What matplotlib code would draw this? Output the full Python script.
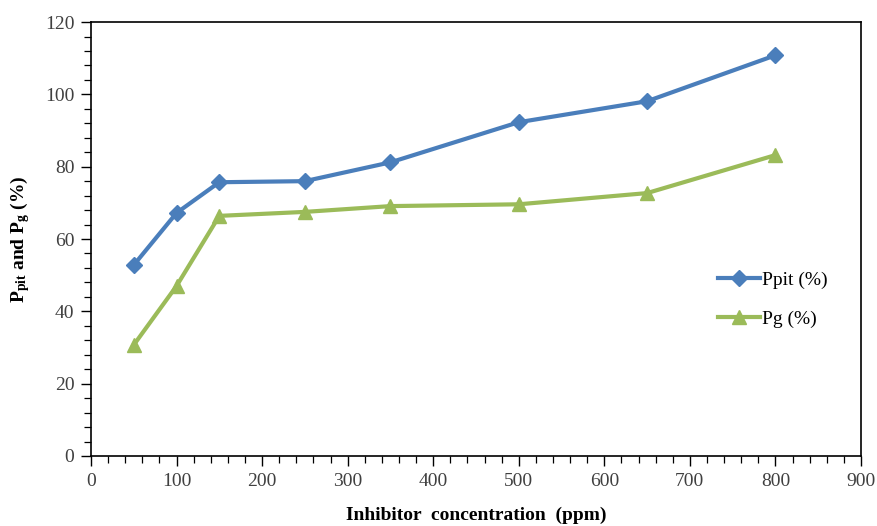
#!/usr/bin/env python3
import matplotlib
matplotlib.use("Agg")
import matplotlib.pyplot as plt
from matplotlib.ticker import MultipleLocator

plt.rcParams['font.family'] = ['Liberation Serif', 'DejaVu Serif']
plt.rcParams['mathtext.fontset'] = 'custom'
plt.rcParams['mathtext.rm'] = 'Liberation Serif'
plt.rcParams['mathtext.bf'] = 'Liberation Serif:bold'

# inhibitor concentration (ppm) and protection values (%)
conc = [50, 100, 150, 250, 350, 500, 650, 800]
p_pit = [52.8, 67.2, 75.7, 76.0, 81.2, 92.3, 98.1, 110.8]
p_g = [30.7, 47.0, 66.4, 67.5, 69.1, 69.6, 72.7, 83.2]

blue = '#4a7ebb'
green = '#9bbb59'

fig = plt.figure(figsize=(8.78, 5.26), dpi=100)
ax = fig.add_axes([0.1036, 0.1331, 0.877, 0.825])

ax.plot(conc, p_pit, color=blue, lw=3, marker='D', ms=8, label='Ppit (%)')
ax.plot(conc, p_g, color=green, lw=3, marker='^', ms=10, label='Pg (%)')

ax.set_xlim(0, 900)
ax.set_ylim(0, 120)
ax.xaxis.set_major_locator(MultipleLocator(100))
ax.xaxis.set_minor_locator(MultipleLocator(20))
ax.yaxis.set_major_locator(MultipleLocator(20))
ax.yaxis.set_minor_locator(MultipleLocator(4))
ax.tick_params(which='major', direction='out', length=7, width=1,
               labelsize=14, colors='black', labelcolor='#404040', pad=5)
ax.tick_params(which='minor', direction='out', length=5, width=0.9)
for s in ax.spines.values():
    s.set_linewidth(1.2)

ax.set_xlabel('Inhibitor  concentration  (ppm)', fontsize=14, fontweight='bold', labelpad=12)
ax.set_ylabel(r'$\mathbf{P_{pit}}$ and $\mathbf{P_{g}}$ (%)', fontsize=14,
              fontweight='bold', labelpad=9)

ax.legend(loc='center right', bbox_to_anchor=(0.98, 0.36), frameon=False,
          fontsize=14, handlelength=2.2, handletextpad=0.1, labelspacing=1.1)

fig.savefig('out.png', dpi=100)
